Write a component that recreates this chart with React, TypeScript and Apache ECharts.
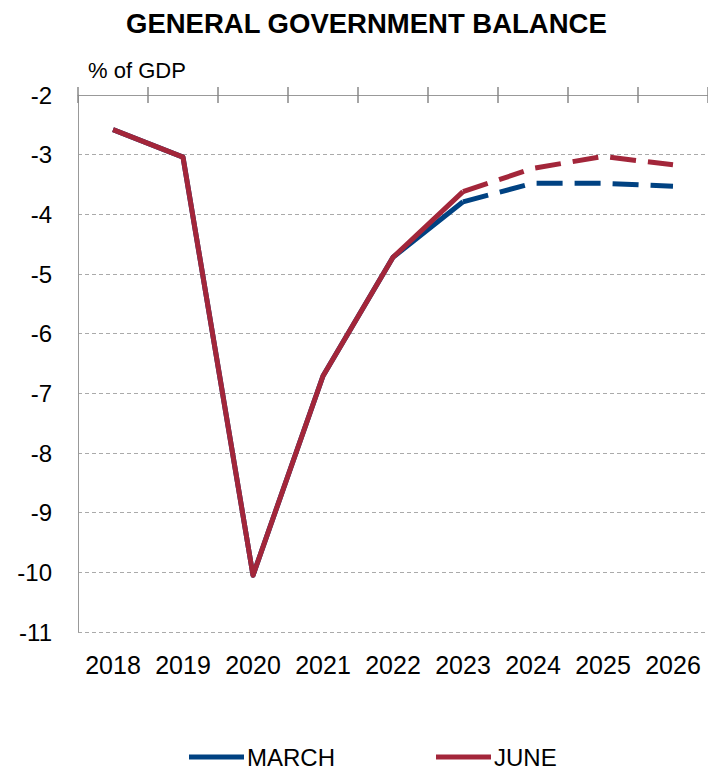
import { useEffect, useRef } from "react";
import * as echarts from "echarts";

const years = ["2018", "2019", "2020", "2021", "2022", "2023", "2024", "2025", "2026"];

// outturn (solid) and forecast (dashed), % of GDP
const marchActual = [-2.58, -3.04, -10.05, -6.71, -4.72, -3.79, null, null, null];
const marchForecast = [null, null, null, null, null, -3.79, -3.48, -3.48, -3.53];
const juneActual = [-2.58, -3.04, -10.05, -6.71, -4.72, -3.62, null, null, null];
const juneForecast = [null, null, null, null, null, -3.62, -3.23, -3.03, -3.17];

const BLUE = "#004282";
const RED = "#a3263a";
const FONT = "Liberation Sans";

export default function App() {
  const chartRef = useRef<HTMLDivElement>(null);

  useEffect(() => {
    if (!chartRef.current) return;
    const chart = echarts.init(chartRef.current, undefined, { renderer: "svg" });

    const line = (name: string, data: (number | null)[], color: string, dashed: boolean) => ({
      name,
      type: "line" as const,
      data,
      xAxisIndex: 0,
      showSymbol: false,
      symbol: "none",
      connectNulls: false,
      lineStyle: {
        color,
        width: 5,
        type: dashed ? [26, 12] : "solid",
        join: "round",
        cap: "butt",
      },
      itemStyle: { color },
      z: color === RED ? 3 : 2,
    });

    chart.setOption({
      animation: false,
      backgroundColor: "#ffffff",
      textStyle: { fontFamily: FONT },
      title: {
        text: "GENERAL GOVERNMENT BALANCE",
        left: 126,
        top: 9,
        padding: 0,
        textStyle: { fontFamily: FONT, fontSize: 27.5, fontWeight: "bold", color: "#000" },
      },
      legend: {
        left: 189,
        top: 745,
        padding: 0,
        itemWidth: 55,
        itemHeight: 5,
        itemGap: 101,
        icon: "rect",
        data: ["MARCH", "JUNE"],
        textStyle: { fontFamily: FONT, fontSize: 24, color: "#000", padding: [0, 0, 0, -2] },
      },
      grid: { left: 78, right: 0, top: 95, bottom: 138, containLabel: false },
      xAxis: [
        {
          type: "category",
          data: years,
          position: "top",
          boundaryGap: true,
          axisLine: { show: true, lineStyle: { color: "#999", width: 1 } },
          axisTick: { show: true, length: 8, lineStyle: { color: "#888", width: 1.5 } },
          axisLabel: { show: false },
          splitLine: { show: false },
        },
        {
          type: "category",
          data: years,
          position: "top",
          boundaryGap: true,
          axisLine: { show: false },
          axisTick: { show: true, inside: true, length: 8, lineStyle: { color: "#888", width: 1.5 } },
          axisLabel: { show: false },
          splitLine: { show: false },
        },
        {
          type: "category",
          data: years,
          position: "bottom",
          boundaryGap: true,
          axisLine: { show: false },
          axisTick: { show: false },
          axisLabel: { show: true, interval: 0, margin: 20, fontFamily: FONT, fontSize: 25, color: "#000" },
          splitLine: { show: false },
        },
      ],
      yAxis: {
        type: "value",
        min: -11,
        max: -2,
        interval: 1,
        name: "% of GDP",
        nameLocation: "end",
        nameGap: 14,
        nameTextStyle: { fontFamily: FONT, fontSize: 22, color: "#000", align: "left", padding: [0, 0, 0, 10] },
        axisLine: { show: true, lineStyle: { color: "#999", width: 1 } },
        axisTick: { show: false },
        axisLabel: { margin: 26, fontFamily: FONT, fontSize: 24, color: "#000" },
        splitLine: { show: true, lineStyle: { color: "#aaa", width: 1, type: [4, 3] } },
      },
      series: [
        line("MARCH", marchActual, BLUE, false),
        line("MARCH", marchForecast, BLUE, true),
        line("JUNE", juneActual, RED, false),
        line("JUNE", juneForecast, RED, true),
      ],
    });

    return () => chart.dispose();
  }, []);

  return (
    <div
      ref={chartRef}
      style={{ position: "absolute", left: 0, top: 0, width: 708, height: 770 }}
    />
  );
}
